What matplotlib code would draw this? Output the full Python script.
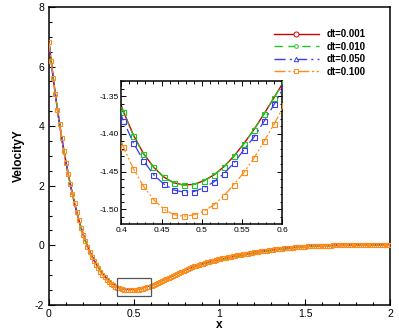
import numpy as np
import matplotlib
matplotlib.use("Agg")
import matplotlib.pyplot as plt
from matplotlib.lines import Line2D
from matplotlib.patches import Rectangle
from matplotlib.ticker import MultipleLocator

plt.rcParams['font.family'] = ['Liberation Sans', 'DejaVu Sans']

# ---------------- data ----------------
labels = ["dt=0.001", "dt=0.010", "dt=0.050", "dt=0.100"]
x0, dx = 0.0025, 0.0125   # sampling grid of the solution

v001 = [6.81, 6.20, 5.62, 5.07, 4.55, 4.06, 3.60, 3.17, 2.77, 2.40,
        2.05, 1.72, 1.41, 1.12, 0.85, 0.60, 0.37, 0.16, -0.03, -0.195,
        -0.345, -0.483, -0.611, -0.729, -0.837, -0.935, -1.024, -1.104, -1.175, -1.237,
        -1.290, -1.335, -1.3700, -1.4015, -1.4260, -1.4440, -1.4570, -1.4648, -1.4678, -1.4670,
        -1.4622, -1.4545, -1.4436, -1.4294, -1.4127, -1.3940, -1.3732, -1.3516, -1.3295, -1.306,
        -1.279, -1.249, -1.217, -1.183, -1.148, -1.112, -1.076, -1.040, -1.005, -0.971,
        -0.938, -0.906, -0.875, -0.845, -0.816, -0.788, -0.761, -0.735, -0.710, -0.686,
        -0.663, -0.641, -0.620, -0.600, -0.580, -0.561, -0.542, -0.524, -0.506, -0.489,
        -0.472, -0.456, -0.440, -0.425, -0.410, -0.395, -0.381, -0.367, -0.353, -0.339,
        -0.326, -0.313, -0.300, -0.288, -0.276, -0.264, -0.252, -0.240, -0.228, -0.217,
        -0.206, -0.195, -0.184, -0.174, -0.164, -0.154, -0.144, -0.135, -0.126, -0.117,
        -0.109, -0.101, -0.093, -0.085, -0.078, -0.071, -0.064, -0.058, -0.052, -0.047,
        -0.042, -0.037, -0.033, -0.029, -0.025, -0.022, -0.019, -0.016, -0.013, -0.011,
        -0.009, -0.007, -0.005, -0.003, -0.002, -0.001, 0.000, 0.001, 0.002, 0.003,
        0.004, 0.005, 0.006, 0.006, 0.007, 0.008, 0.008, 0.009, 0.009, 0.010,
        0.010, 0.011, 0.011, 0.012, 0.012, 0.012, 0.013, 0.013, 0.013, 0.014,
        0.014]

v010 = [6.81, 6.20, 5.62, 5.07, 4.55, 4.06, 3.60, 3.17, 2.77, 2.40,
        2.05, 1.72, 1.41, 1.12, 0.85, 0.60, 0.37, 0.16, -0.03, -0.195,
        -0.345, -0.483, -0.611, -0.729, -0.837, -0.935, -1.024, -1.104, -1.175, -1.237,
        -1.290, -1.335, -1.3712, -1.4023, -1.4265, -1.4442, -1.4574, -1.4650, -1.4680, -1.4672,
        -1.4625, -1.4548, -1.4438, -1.4296, -1.4129, -1.3943, -1.3735, -1.3519, -1.330, -1.306,
        -1.279, -1.249, -1.217, -1.183, -1.148, -1.112, -1.076, -1.040, -1.005, -0.971,
        -0.940, -0.909, -0.879, -0.850, -0.822, -0.795, -0.769, -0.744, -0.720, -0.697,
        -0.675, -0.654, -0.634, -0.614, -0.595, -0.577, -0.559, -0.541, -0.524, -0.507,
        -0.491, -0.475, -0.459, -0.444, -0.429, -0.414, -0.400, -0.386, -0.372, -0.358,
        -0.345, -0.332, -0.319, -0.306, -0.294, -0.282, -0.270, -0.258, -0.246, -0.235,
        -0.224, -0.213, -0.202, -0.191, -0.181, -0.171, -0.161, -0.151, -0.142, -0.133,
        -0.124, -0.116, -0.108, -0.100, -0.092, -0.085, -0.078, -0.071, -0.065, -0.059,
        -0.053, -0.048, -0.043, -0.038, -0.034, -0.030, -0.026, -0.023, -0.020, -0.017,
        -0.015, -0.013, -0.011, -0.009, -0.007, -0.006, -0.005, -0.004, -0.003, -0.002,
        -0.001, 0.000, 0.001, 0.001, 0.002, 0.002, 0.003, 0.003, 0.004, 0.004,
        0.004, 0.005, 0.005, 0.005, 0.006, 0.006, 0.006, 0.007, 0.007, 0.007,
        0.007]

v050 = [6.81, 6.20, 5.62, 5.07, 4.55, 4.06, 3.60, 3.17, 2.77, 2.40,
        2.05, 1.72, 1.41, 1.12, 0.85, 0.60, 0.37, 0.16, -0.032, -0.198,
        -0.348, -0.487, -0.616, -0.735, -0.844, -0.943, -1.033, -1.113, -1.185, -1.247,
        -1.301, -1.346, -1.3824, -1.4119, -1.4354, -1.4540, -1.4663, -1.4743, -1.4773, -1.4765,
        -1.4716, -1.4637, -1.4527, -1.4385, -1.4208, -1.4040, -1.3832, -1.3606, -1.337, -1.312,
        -1.284, -1.253, -1.220, -1.185, -1.149, -1.112, -1.075, -1.038, -1.002, -0.967,
        -0.933, -0.900, -0.868, -0.837, -0.807, -0.778, -0.750, -0.723, -0.697, -0.672,
        -0.648, -0.625, -0.603, -0.582, -0.561, -0.541, -0.522, -0.503, -0.485, -0.467,
        -0.450, -0.433, -0.417, -0.401, -0.386, -0.371, -0.356, -0.342, -0.328, -0.314,
        -0.301, -0.288, -0.275, -0.263, -0.251, -0.239, -0.227, -0.215, -0.204, -0.193,
        -0.182, -0.171, -0.161, -0.151, -0.141, -0.131, -0.122, -0.113, -0.104, -0.096,
        -0.088, -0.080, -0.072, -0.065, -0.058, -0.051, -0.045, -0.039, -0.033, -0.028,
        -0.023, -0.018, -0.014, -0.010, -0.006, -0.003, 0.000, 0.003, 0.006, 0.008,
        0.010, 0.012, 0.014, 0.016, 0.018, 0.019, 0.020, 0.021, 0.022, 0.023,
        0.024, 0.025, 0.026, 0.027, 0.028, 0.028, 0.029, 0.030, 0.030, 0.031,
        0.031, 0.032, 0.032, 0.033, 0.033, 0.034, 0.034, 0.034, 0.035, 0.035,
        0.035]

v100 = [6.81, 6.20, 5.62, 5.07, 4.55, 4.06, 3.60, 3.17, 2.77, 2.40,
        2.05, 1.72, 1.41, 1.12, 0.85, 0.59, 0.355, 0.14, -0.055, -0.225,
        -0.380, -0.523, -0.654, -0.774, -0.883, -0.982, -1.071, -1.151, -1.222, -1.284,
        -1.336, -1.381, -1.4172, -1.4464, -1.4694, -1.4871, -1.4995, -1.5070, -1.5092, -1.5074,
        -1.5025, -1.4942, -1.4818, -1.4672, -1.4508, -1.4318, -1.4097, -1.3867, -1.362, -1.335,
        -1.306, -1.275, -1.242, -1.207, -1.171, -1.134, -1.097, -1.060, -1.023, -0.987,
        -0.952, -0.918, -0.885, -0.853, -0.822, -0.792, -0.763, -0.735, -0.708, -0.682,
        -0.657, -0.633, -0.610, -0.588, -0.567, -0.547, -0.527, -0.508, -0.490, -0.472,
        -0.455, -0.439, -0.423, -0.408, -0.393, -0.378, -0.364, -0.350, -0.336, -0.323,
        -0.310, -0.297, -0.285, -0.273, -0.261, -0.249, -0.238, -0.227, -0.216, -0.205,
        -0.195, -0.185, -0.175, -0.165, -0.155, -0.146, -0.137, -0.128, -0.119, -0.111,
        -0.103, -0.095, -0.087, -0.080, -0.073, -0.066, -0.060, -0.054, -0.048, -0.043,
        -0.038, -0.033, -0.029, -0.025, -0.021, -0.018, -0.015, -0.012, -0.010, -0.008,
        -0.006, -0.005, -0.004, -0.003, -0.002, -0.001, 0.000, 0.000, 0.001, 0.001,
        0.002, 0.002, 0.003, 0.003, 0.003, 0.004, 0.004, 0.004, 0.005, 0.005,
        0.005, 0.005, 0.006, 0.006, 0.006, 0.006, 0.006, 0.007, 0.007, 0.007,
        0.007]

series = [v001, v010, v050, v100]

# ---------------- styles ----------------
colors = ['#d40000', '#1ec81e', '#3a3af0', '#ff8c1a']
styles = ['-', (0, (6, 4)), (0, (8, 3, 1.5, 3)), (0, (8, 2, 1.5, 2, 1.5, 2))]
leg_markers = ['o', 'o', '^', 's']
leg_ms = [3.6, 2.6, 3.2, 3.0]

def grid(v):
    return x0 + dx * np.arange(len(v))

fig = plt.figure(figsize=(3.99, 3.33), dpi=100)
ax = fig.add_axes([0.1216, 0.0841, 0.857, 0.895])

for i, (v, c, ls) in enumerate(zip(series, colors, styles)):
    if i == 3:
        ax.plot(grid(v), v, color=c, ls=ls, lw=0.9, marker='s', ms=3.4,
                mfc='none', mew=0.8, zorder=3 + i)
    else:
        ax.plot(grid(v), v, color=c, ls=ls, lw=1.1, zorder=3 + i)

ax.set_xlim(0, 2)
ax.set_ylim(-2, 8)
ax.xaxis.set_major_locator(MultipleLocator(0.5))
ax.xaxis.set_minor_locator(MultipleLocator(0.1))
ax.yaxis.set_major_locator(MultipleLocator(2))
ax.yaxis.set_minor_locator(MultipleLocator(0.5))
ax.xaxis.set_major_formatter(plt.FuncFormatter(lambda v, p: f"{v:g}"))
ax.yaxis.set_major_formatter(plt.FuncFormatter(lambda v, p: f"{v:g}"))
ax.tick_params(which='both', direction='in', top=False, right=False,
               labelsize=7.5, width=0.8)
ax.tick_params(which='major', length=4.5, pad=3)
ax.tick_params(which='minor', length=2.5)
for s in ax.spines.values():
    s.set_linewidth(1.1)
ax.set_xlabel('x', fontsize=8.5, fontweight='bold', labelpad=0)
ax.set_ylabel('VelocityY', fontsize=8.5, fontweight='bold', labelpad=7)

# zoom box
ax.add_patch(Rectangle((0.4, -1.70), 0.2, 0.62, fill=False,
                       ec='#555555', lw=0.9, zorder=8))

# legend
handles = [Line2D([], [], color=c, ls=ls, lw=1.0, marker=m, ms=ms,
                  mfc='white', mew=0.7)
           for c, ls, m, ms in zip(colors, styles, leg_markers, leg_ms)]
ax.legend(handles, labels, loc='upper left', bbox_to_anchor=(0.659, 0.926),
          frameon=False, borderpad=0, borderaxespad=0, handlelength=4.6,
          handletextpad=0.8, labelspacing=0.26,
          prop={'size': 7, 'weight': 'bold'})

# inset
axi = fig.add_axes([0.304, 0.3273, 0.4035, 0.4294])
axi.set_facecolor('white')
for i, (v, c, ls) in enumerate(zip(series, colors, styles)):
    if i == 0:
        axi.plot(grid(v), v, color=c, ls=ls, lw=1.0, zorder=2)
    else:
        axi.plot(grid(v), v, color=c, ls=ls, lw=0.9, marker='s', ms=3.6,
                 mfc='none', mew=0.8, zorder=2 + i)
axi.set_xlim(0.4, 0.6)
axi.set_ylim(-1.5195, -1.330)
axi.xaxis.set_major_locator(MultipleLocator(0.05))
axi.xaxis.set_minor_locator(MultipleLocator(0.01))
axi.yaxis.set_major_locator(MultipleLocator(0.05))
axi.yaxis.set_minor_locator(MultipleLocator(0.01))
axi.xaxis.set_major_formatter(plt.FuncFormatter(lambda v, p: f"{v:g}"))
axi.yaxis.set_major_formatter(plt.FuncFormatter(lambda v, p: f"{v:.2f}"))
axi.tick_params(which='both', direction='in', top=True, right=True,
                labelsize=6, width=0.7)
axi.tick_params(which='major', length=3.5, pad=2)
axi.tick_params(which='minor', length=1.8)
for s in axi.spines.values():
    s.set_linewidth(1.1)

fig.savefig('out.png', dpi=100)
